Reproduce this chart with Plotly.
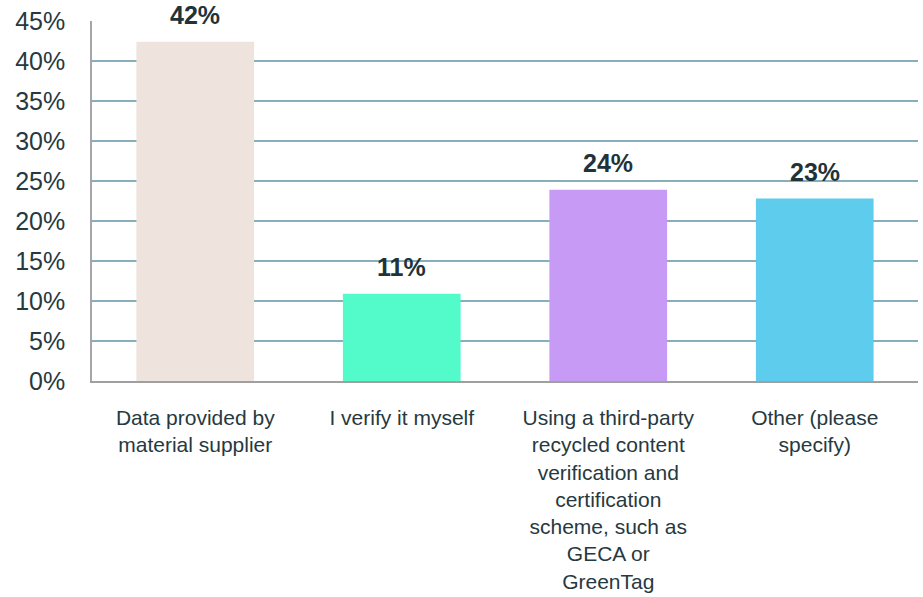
import plotly.graph_objects as go

categories = [
    "Data provided by<br>material supplier",
    "I verify it myself",
    "Using a third-party<br>recycled content<br>verification and<br>certification<br>scheme, such as<br>GECA or<br>GreenTag",
    "Other (please<br>specify)",
]
values = [42.4, 10.9, 23.9, 22.8]
labels = ["42%", "11%", "24%", "23%"]
colors = ["#EFE3DE", "#52FBC9", "#C79BF5", "#5ECCEC"]
y_ticks = [0, 5, 10, 15, 20, 25, 30, 35, 40, 45]
y_tick_text = [f"{t}%" for t in y_ticks]

fig = go.Figure()
fig.add_trace(go.Bar(
    x=categories,
    y=values,
    marker=dict(color=colors, line=dict(width=0)),
    hoverinfo="skip",
))

for c, v, t in zip(categories, values, labels):
    fig.add_annotation(
        x=c, y=v, text=f"<b>{t}</b>", showarrow=False,
        yanchor="bottom", yshift=11,
        font=dict(family="Liberation Sans, Arial, sans-serif", size=25, color="#1F3339"),
    )

fig.update_layout(
    width=923, height=597,
    margin=dict(l=92, r=5, t=21, b=216),
    paper_bgcolor="white", plot_bgcolor="white",
    bargap=0.43,
    showlegend=False,
    font=dict(family="Liberation Sans, Arial, sans-serif", color="#26393F"),
)
fig.update_yaxes(
    range=[0, 45],
    tickvals=y_ticks, ticktext=y_tick_text,
    tickfont=dict(size=25, color="#26393F"),
    showgrid=True, gridcolor="#86AEBB", gridwidth=1.5,
    showline=True, linecolor="#A6A6A6", linewidth=1.5,
    zeroline=False,
    ticks="", ticklabelstandoff=20,
    automargin=False,
    fixedrange=True,
)
fig.update_xaxes(
    tickfont=dict(size=21, color="#26393F"),
    showline=True, linecolor="#A0A0A0", linewidth=1.5,
    ticks="", ticklabelstandoff=17,
    tickangle=0,
    automargin=False,
    fixedrange=True,
)

fig.write_html(
    "out.html",
    config={"displayModeBar": False},
    post_script="document.body.style.margin='0';document.body.style.overflow='hidden';",
)
